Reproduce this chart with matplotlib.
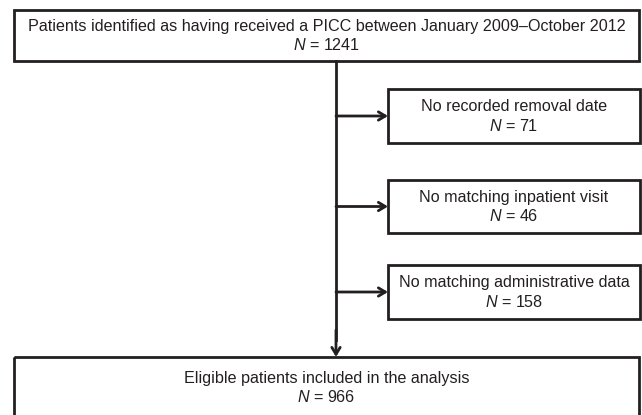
import matplotlib
matplotlib.use("Agg")
import matplotlib.pyplot as plt
from matplotlib.patches import Rectangle

plt.rcParams["font.family"] = ["Liberation Sans", "DejaVu Sans"]
plt.rcParams["mathtext.fontset"] = "custom"
plt.rcParams["mathtext.rm"] = "Liberation Sans"
plt.rcParams["mathtext.it"] = "Liberation Sans:italic"

# flow chart content
top_label = "Patients identified as having received a PICC between January 2009\u2013October 2012"
top_n = 1241
excl_labels = ["No recorded removal date",
               "No matching inpatient visit",
               "No matching administrative data"]
excl_n = [71, 46, 158]
final_label = "Eligible patients included in the analysis"
final_n = 966

LW = 2.0
FS = 11.6

fig = plt.figure(figsize=(6.42, 4.15), dpi=100)
ax = fig.add_axes([0, 0, 1, 1])
ax.set_xlim(0, 642)
ax.set_ylim(415, 0)
ax.axis("off")


def box(x0, y0, x1, y1, label, n):
    ax.add_patch(Rectangle((x0, y0), x1 - x0, y1 - y0, fill=False,
                           edgecolor="#231f20", linewidth=LW, clip_on=False))
    cx = (x0 + x1) / 2
    cy = (y0 + y1) / 2
    ax.text(cx, cy - 9.5, label, ha="center", va="center", fontsize=FS, color="#231f20")
    ax.text(cx, cy + 9.5, f"$N$ = {n}", ha="center", va="center", fontsize=FS, color="#231f20")


def arrow(x0, y0, x1, y1):
    ax.annotate("", xy=(x1, y1), xytext=(x0, y0),
                arrowprops=dict(arrowstyle="->,head_length=0.5,head_width=0.3",
                                color="#231f20", lw=LW, shrinkA=0, shrinkB=0))


spine_x = 336
box(14, 10, 639, 61, top_label, top_n)

excl_boxes = [(89, 143), (180, 233), (265, 319)]
for (y0, y1), lab, n in zip(excl_boxes, excl_labels, excl_n):
    box(388, y0, 640, y1, lab, n)
    arrow(spine_x, (y0 + y1) / 2, 388, (y0 + y1) / 2)

box(14, 357, 639, 418, final_label, final_n)
ax.plot([spine_x, spine_x], [61, 340], color="#231f20", lw=LW)
arrow(spine_x, 330, spine_x, 357)

fig.savefig("out.png", dpi=100)
